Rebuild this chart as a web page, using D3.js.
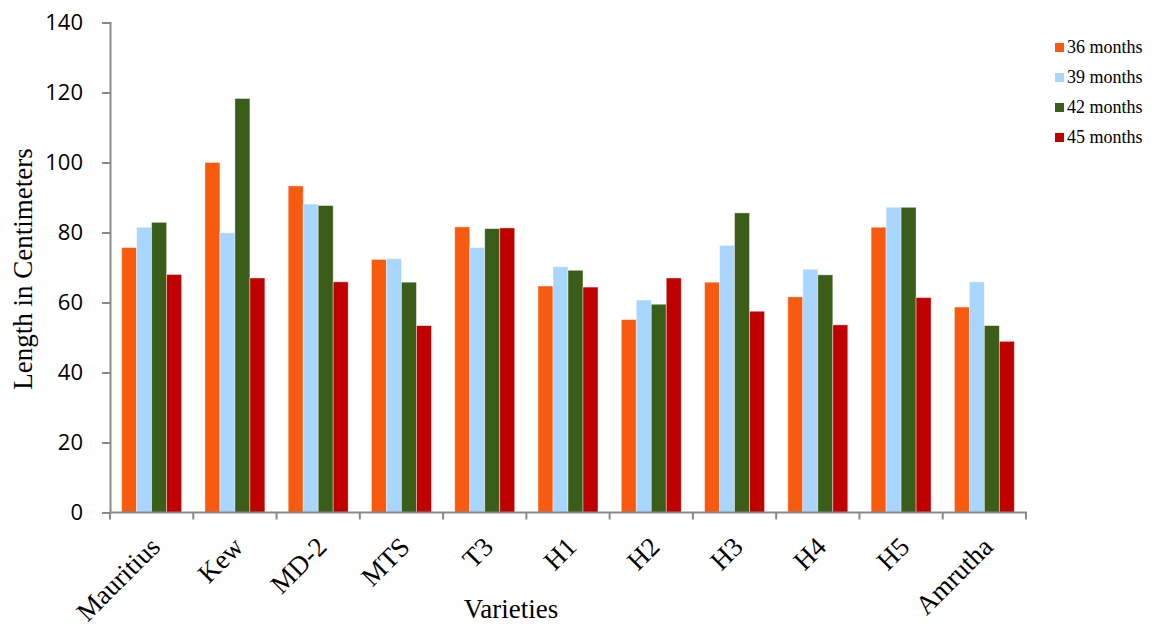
<!DOCTYPE html>
<html><head><meta charset="utf-8">
<script src="https://cdn.jsdelivr.net/npm/d3@7"></script>
<style>body{margin:0;background:#fff}</style>
</head><body><svg id="c" width="1155" height="626"></svg>
<script>
const categories = ["Mauritius","Kew","MD-2","MTS","T3","H1","H2","H3","H4","H5","Amrutha"];
const seriesNames = ["36 months","39 months","42 months","45 months"];
const m36 = [75.7,100.0,93.3,72.3,81.6,64.7,55.1,65.8,61.6,81.5,58.7];
const m39 = [81.5,79.9,88.1,72.5,75.7,70.2,60.7,76.3,69.5,87.2,65.9];
const m42 = [82.9,118.3,87.7,65.8,81.1,69.2,59.5,85.6,67.9,87.2,53.4];
const m45 = [68.0,67.0,65.9,53.4,81.3,64.4,67.0,57.5,53.6,61.4,48.9];
const yTicks = [0,20,40,60,80,100,120,140];
const colors = ["#F85A10","#A8D6FE","#3A5E19","#C00000"];
const series = [m36,m39,m42,m45];

const svg = d3.select("#c");
const L=110, R=1026, T=22.5, B=512.5;
const x = d3.scaleBand().domain(categories).range([L,R]).paddingInner(0.28).paddingOuter(0.14);
const x0 = d3.scaleBand().domain(categories).range([L,R]);
const y = d3.scaleLinear().domain([0,140]).range([B,T]);
const xs = d3.scaleBand().domain(seriesNames).range([0,x.bandwidth()]);

series.forEach((vals,si)=>{
  svg.append("g").selectAll("rect").data(categories).join("rect")
    .attr("x",(d)=>x(d)+xs(seriesNames[si]))
    .attr("y",(d,i)=>y(vals[i]))
    .attr("width",xs.bandwidth())
    .attr("height",(d,i)=>B-y(vals[i]))
    .attr("fill",colors[si])
    .attr("stroke","rgba(255,255,255,0.5)").attr("stroke-width",0.8);
});

// y axis
const ya = svg.append("g").attr("transform",`translate(${L},0)`)
  .call(d3.axisLeft(y).tickValues(yTicks).tickSize(8).tickPadding(19));
ya.select(".domain").attr("stroke","#898989").attr("stroke-width",2);
ya.selectAll(".tick line").attr("stroke","#898989").attr("stroke-width",2);
ya.selectAll(".tick text").attr("font-family","'Open Sans', sans-serif").attr("font-size",22).attr("fill","#000");

// x axis
const xa = svg.append("g").attr("transform",`translate(0,${B})`)
  .call(d3.axisBottom(x0).tickSize(0).tickFormat(""));
xa.select(".domain").remove();
xa.append("line").attr("x1",L).attr("x2",R+1).attr("y1",0).attr("y2",0).attr("stroke","#898989").attr("stroke-width",2);
const tickPos = categories.map(c=>x0(c)).concat([R]);
xa.selectAll(".sep").data(tickPos).join("line").attr("class","sep")
  .attr("x1",d=>d).attr("x2",d=>d).attr("y1",0).attr("y2",7).attr("stroke","#898989").attr("stroke-width",2);

svg.append("g").selectAll("text").data(categories).join("text")
  .attr("transform",d=>`translate(${x0(d)+x0.bandwidth()/2+10},${B+36}) rotate(-45)`)
  .attr("text-anchor","end").attr("font-family","'Liberation Serif', serif").attr("font-size",27)
  .attr("fill","#000").text(d=>d);

svg.append("text").attr("x",511).attr("y",618).attr("text-anchor","middle")
  .attr("font-family","'Liberation Serif', serif").attr("font-size",27).text("Varieties");
svg.append("text").attr("transform","translate(32,269) rotate(-90)").attr("text-anchor","middle")
  .attr("font-family","'Liberation Serif', serif").attr("font-size",27).text("Length in Centimeters");

// legend
const lg = svg.append("g");
seriesNames.forEach((n,i)=>{
  const by = 53 + i*30;
  lg.append("rect").attr("x",1055).attr("y",by-10).attr("width",9).attr("height",9).attr("fill",colors[i]);
  lg.append("text").attr("x",1067).attr("y",by).attr("font-family","'Liberation Serif', serif")
    .attr("font-size",18).attr("fill","#000").text(n);
});
</script></body></html>
